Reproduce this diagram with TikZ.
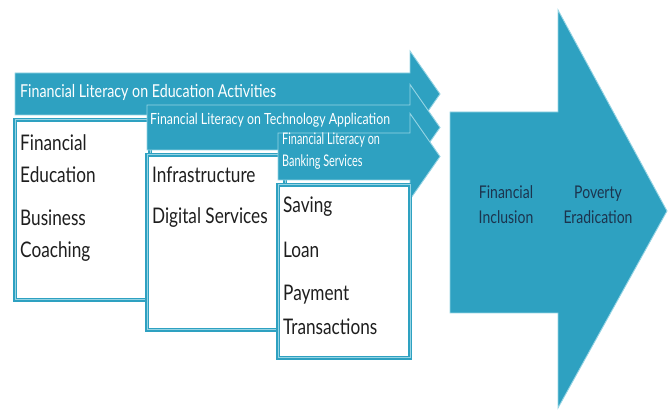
\documentclass[tikz,border=0pt]{standalone}
\usepackage{fontspec}
\setmainfont{Lato}[FakeStretch=0.8]
\newfontfamily\narrowfont{Lato}[FakeStretch=0.68]
\usepackage{tikz}

\definecolor{teal}{RGB}{46,161,193}
\definecolor{lightteal}{RGB}{150,212,228}
\definecolor{navy}{RGB}{28,52,78}
\definecolor{ink}{RGB}{30,30,30}

\tikzset{
  band/.style={fill=teal,draw=lightteal,line width=0.9pt,line join=miter},
  whitebox/.style={fill=white,draw=teal,line width=1.2pt,double=lightteal,double distance=1pt},
  bandtext/.style={text=white,anchor=west,inner sep=0pt},
  itemtext/.style={text=ink,anchor=west,inner sep=0pt,align=left,
    font=\fontsize{21.5}{32}\selectfont},
  goaltext/.style={text=navy,inner sep=0pt,align=center,
    font=\fontsize{17.5}{25}\selectfont}
}

\begin{document}
\begin{tikzpicture}[x=1pt,y=-1pt]
  \useasboundingbox (0,0) rectangle (672,411);
  % each level: band arrow on top, white box below it
  % x0 / band top / band bottom / box right / box bottom
  \foreach \x/\t/\b/\r/\bb in {15/73/115/150/300, 147/105/150/285/330, 278/133/180/410/358}{
    \pgfmathsetmacro\m{(\t+\b)/2}
    \draw[band] (\x,\t) -- (410,\t) -- (410,\m-43) -- (440,\m) -- (410,\m+43)
      -- (410,\b) -- (\x,\b) -- cycle;
    \draw[whitebox] (\x,\b+5) rectangle (\r,\bb);
  }
  % the big arrow
  \draw[band] (450,112) -- (558,112) -- (558,10) -- (667,211) -- (558,408)
    -- (558,313) -- (450,313) -- cycle;

  \node[bandtext,font=\fontsize{17.8}{20}\selectfont] (edu) at (20,92)
    {Financial Literacy on Education Activities};
  \node[bandtext,font=\fontsize{15.4}{18}\selectfont] (tech) at (150,120)
    {Financial Literacy on Technology Application};
  \node[bandtext,align=left,font=\narrowfont\fontsize{16}{22}\selectfont] (bank) at (282,151)
    {Financial Literacy on\\Banking Services};

  \node[itemtext] (fined) at (20,159) {Financial\\Education};
  \node[itemtext] (coach) at (20,236) {Business\\Coaching};
  \node[itemtext] (infra) at (152,175) {Infrastructure};
  \node[itemtext] (digit) at (152,218) {Digital Services};
  \node[itemtext] (save) at (283,207) {Saving};
  \node[itemtext] (loan) at (283,250) {Loan};
  \node[itemtext,font=\fontsize{21.5}{34}\selectfont] (pay) at (283,310) {Payment\\Transactions};

  \node[goaltext] (incl) at (506,205) {Financial\\Inclusion};
  \node[goaltext] (pov) at (598,205) {Poverty\\Eradication};
\end{tikzpicture}
\end{document}
